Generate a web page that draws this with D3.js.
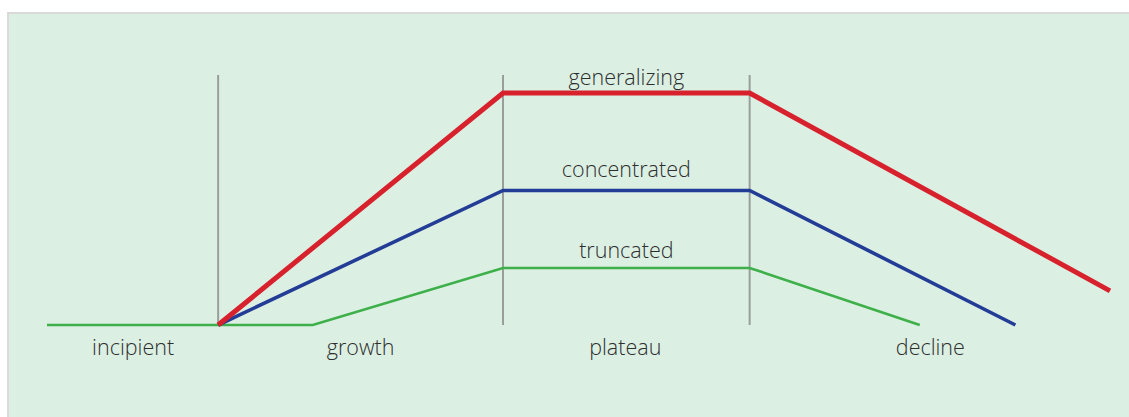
<!DOCTYPE html>
<html>
<head>
<meta charset="utf-8">
<script src="https://cdn.jsdelivr.net/npm/d3@7"></script>
<style>
  html, body { margin: 0; padding: 0; background: #fff; }
  svg { display: block; }
  text { font-family: "Open Sans", "Noto Sans", sans-serif; font-weight: 300; fill: #2e2e2e; }
</style>
</head>
<body>
<div id="chart"></div>
<script>
// life-cycle stages, boundaries on a 0-100 time axis
const stages = ["incipient", "growth", "plateau", "decline"];
const stageCenters = [8.1, 29.5, 54.4, 83.1];
const boundaries = [16.1, 42.9, 66.1];

// series: [time, level]
const seriesNames = ["generalizing", "concentrated", "truncated"];
const generalizing = [[16.1, 0], [42.9, 100], [66.1, 100], [100, 14.7]];
const concentrated = [[16.1, 0], [42.9, 58], [66.1, 58], [91.1, 0]];
const truncated = [[0, 0], [16.1, 0], [25, 0], [42.9, 24.6], [66.1, 24.6], [82.1, 0]];

const width = 1129;
const height = 417;

const svg = d3.select("#chart")
    .append("svg")
    .attr("width", width)
    .attr("height", height);

// panel
svg.append("rect")
    .attr("x", 8)
    .attr("y", 13)
    .attr("width", width + 10)
    .attr("height", height)
    .attr("fill", "#dcefe3")
    .attr("stroke", "#dadada")
    .attr("stroke-width", 2);

const x = d3.scaleLinear().domain([0, 100]).range([47, 1110]);
const y = d3.scaleLinear().domain([0, 100]).range([325, 93]);

// stage dividers
svg.selectAll("line.divider")
    .data(boundaries)
    .enter()
    .append("line")
    .attr("class", "divider")
    .attr("x1", d => x(d))
    .attr("x2", d => x(d))
    .attr("y1", 75)
    .attr("y2", 325)
    .attr("stroke", "#9a9e9b")
    .attr("stroke-width", 2);

const line = d3.line().x(d => x(d[0])).y(d => y(d[1]));

const series = [
    { name: "truncated", values: truncated, color: "#3db049", w: 2.6, dy: -10 },
    { name: "concentrated", values: concentrated, color: "#233d96", w: 3.6, dy: -13 },
    { name: "generalizing", values: generalizing, color: "#d7222d", w: 5, dy: -8 }
];

svg.selectAll("path.series")
    .data(series)
    .enter()
    .append("path")
    .attr("class", "series")
    .attr("d", d => line(d.values))
    .attr("fill", "none")
    .attr("stroke", d => d.color)
    .attr("stroke-width", d => d.w)
    .attr("stroke-linejoin", "miter");

// series labels over the plateau
svg.selectAll("text.series-label")
    .data(series)
    .enter()
    .append("text")
    .attr("class", "series-label")
    .attr("x", x((boundaries[1] + boundaries[2]) / 2))
    .attr("y", d => y(d.values.find(v => v[0] === boundaries[1])[1]) + d.dy)
    .attr("text-anchor", "middle")
    .attr("font-size", 21.5)
    .text(d => d.name);

// stage labels
svg.selectAll("text.stage")
    .data(stages)
    .enter()
    .append("text")
    .attr("class", "stage")
    .attr("x", (d, i) => x(stageCenters[i]))
    .attr("y", 355)
    .attr("text-anchor", "middle")
    .attr("font-size", 21.5)
    .text(d => d);
</script>
</body>
</html>
